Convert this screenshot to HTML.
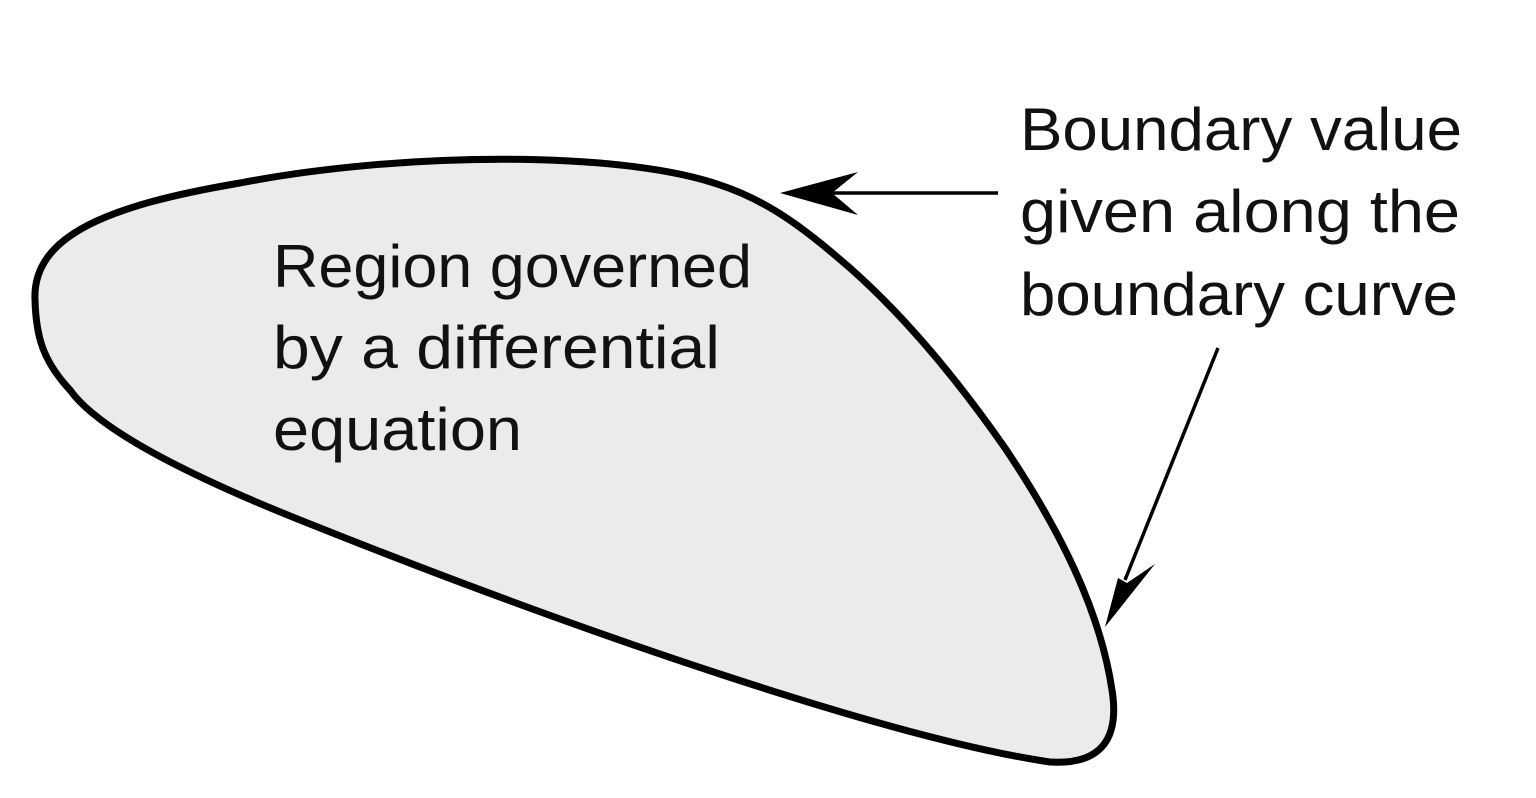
<!DOCTYPE html>
<html><head><meta charset="utf-8"><style>
html,body{margin:0;padding:0;background:#fff;}
svg{display:block;}
text{font-family:"Liberation Sans",sans-serif;font-size:60px;fill:#111;}
</style></head><body>
<svg width="1536" height="798" viewBox="0 0 1536 798" xmlns="http://www.w3.org/2000/svg">
<path d="M 35 300 C 32 235, 110 205, 240 183 C 400 152, 620 150, 720 185 C 775 203, 815 238, 850 268 C 920 330, 975 405, 1005 448 C 1060 530, 1100 610, 1112 690 C 1120 740, 1100 765, 1050 762 C 900 740, 600 640, 300 520 C 170 468, 95 425, 70 390 C 42 360, 36 335, 35 300 Z" fill="#ebebeb" stroke="#000" stroke-width="7" stroke-linejoin="round"/>
<line x1="998" y1="193" x2="820" y2="193" stroke="#000" stroke-width="3.5"/>
<polygon points="780,193 858,172 832,193 858,215" fill="#000"/>
<line x1="1218" y1="348" x2="1125" y2="580" stroke="#000" stroke-width="3.5"/>
<polygon points="1105,627 1118,578 1127,583 1155,564" fill="#000"/>
<text x="273" y="287" textLength="479" lengthAdjust="spacingAndGlyphs">Region governed</text>
<text x="273" y="368" textLength="447" lengthAdjust="spacingAndGlyphs">by a differential</text>
<text x="273" y="450" textLength="249" lengthAdjust="spacingAndGlyphs">equation</text>
<text x="1020" y="150" textLength="442" lengthAdjust="spacingAndGlyphs">Boundary value</text>
<text x="1020" y="232" textLength="440" lengthAdjust="spacingAndGlyphs">given along the</text>
<text x="1020" y="315" textLength="438" lengthAdjust="spacingAndGlyphs">boundary curve</text>
</svg>
</body></html>
